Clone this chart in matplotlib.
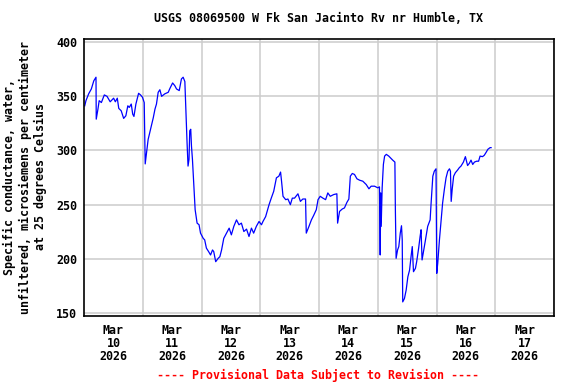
import numpy as np
import pandas as pd
import matplotlib
matplotlib.use('Agg')
import matplotlib.pyplot as plt
import matplotlib.dates as mdates

# Hours after Mar 10 2026 00:00, and specific conductance (uS/cm at 25 C)
hours = [0.3, 0.8, 1.9, 3.0, 4.0, 4.9, 5.0, 5.7, 6.2, 7.1, 8.3, 9.4, 10.7, 12.1, 12.8,
         13.6, 14.2, 15.2, 16.2, 17.1, 17.9, 18.5, 19.3, 19.9, 20.4, 21.2, 22.3, 23.1,
         23.9, 24.6, 25.0, 25.7, 26.2, 27.2, 28.3, 29.0, 29.6, 30.3, 31.0, 31.7, 33.0,
         34.4, 35.1, 36.2, 37.1, 37.8, 38.9, 39.8, 40.5, 41.2, 41.6, 42.1, 42.5, 42.9,
         43.2, 43.6, 43.9, 44.3, 44.9, 45.4, 46.2, 47.0, 47.6, 48.7, 49.3, 50.0, 50.9,
         51.7, 52.5, 53.0, 53.8, 54.8, 55.5, 56.2, 57.1, 58.2, 59.3, 60.2, 61.2, 62.3,
         63.3, 64.3, 65.3, 66.4, 67.4, 68.4, 69.3, 70.4, 71.5, 72.5, 73.1, 74.2, 75.6,
         76.5, 77.5, 78.6, 79.6, 80.3, 80.7, 81.3, 82.4, 83.3, 84.3, 85.1, 86.0, 87.4,
         88.4, 89.4, 90.5, 90.8, 91.9, 92.9, 93.8, 94.9, 95.6, 96.5, 97.6, 98.7, 99.6,
         100.6, 102.0, 103.3, 103.6, 104.4, 105.5, 106.4, 107.4, 108.2, 108.8, 109.6,
         110.5, 111.5, 112.6, 113.9, 115.3, 116.4, 117.3, 118.7, 120.0, 120.7, 121.0,
         121.2, 121.4, 121.8, 122.3, 122.8, 123.5, 124.5, 125.5, 126.1, 127.0, 127.2,
         127.5, 128.1, 128.6, 129.2, 129.7, 130.0, 130.2, 130.9, 131.6, 132.3, 133.0,
         133.6, 134.1, 134.6, 135.4, 135.9, 136.7, 137.3, 137.7, 138.1, 138.7, 139.5,
         140.4, 141.4, 141.8, 142.5, 143.1, 143.8, 144.1, 144.5, 145.2, 145.9, 146.5,
         147.2, 147.9, 148.6, 149.3, 149.7, 150.0, 150.4, 151.0, 151.7, 152.6, 153.3,
         154.0, 155.0, 155.8, 156.7, 157.4, 158.1, 158.8, 159.5, 160.4, 161.2, 161.8,
         162.8, 163.5, 164.2, 165.0, 165.9, 166.3]
values = [341, 345.7, 352, 356.5, 364, 367.3, 328.7, 338, 345.7, 344, 351, 349.7, 344.7,
          348, 344.7, 348, 338.6, 336.4, 329.4, 331.8, 341, 339.5, 342.6, 333.3, 331.2,
          342.6, 352.5, 351, 348.8, 344, 287.5, 301, 310, 319.4, 330, 338, 342.6, 353.4,
          355.8, 349.7, 352, 353.4, 357, 362, 359.5, 356.5, 355, 365.7, 367.3, 363.3, 338,
          307, 285.5, 291.7, 318, 319.4, 304, 291.7, 267, 245.4, 233, 231.5, 223.8, 219,
          217.6, 210, 206.8, 203.7, 208.3, 206.8, 197.5, 200.6, 202.1, 208.3, 219, 223.8,
          228.4, 222.2, 230, 236, 231.5, 233, 225.3, 227.5, 220.7, 228.4, 223.8, 230,
          234.5, 231.5, 234.5, 239, 250, 256, 262.3, 274.7, 276.2, 280, 271.6, 257.7,
          254.6, 255.2, 250, 256, 256, 260, 253, 255.2, 255.2, 223.8, 230, 236, 240,
          245.4, 254.6, 257.7, 256, 254.6, 260.8, 257.7, 259.3, 260, 233, 243.8, 246,
          247, 252.1, 255.2, 276.2, 278.7, 277.8, 273.8, 272.5, 271.6, 268.5, 264.6, 267,
          267, 265.5, 266.4, 203.7, 260.8, 230, 265.5, 287, 294.7, 296.3, 294.7, 292.3,
          291, 289.2, 245.4, 200.6, 208.3, 211.4, 223.8, 230.6, 217.6, 160.5, 163.6,
          171.3, 183.6, 189.8, 202.1, 211.4, 188.3, 191.4, 197.5, 209.9, 220.7, 226.9,
          199.1, 206.8, 217.6, 230, 236, 251.6, 276.2, 280.8, 283, 186.8, 196, 217.6, 236,
          251.6, 263.9, 274.7, 280.8, 283, 280.8, 253, 263.9, 276.2, 279.4, 281.8, 284,
          285.5, 289.2, 294.2, 286, 288, 291, 287, 289.2, 290, 290, 294.7, 294.2, 295.4,
          297.9, 301, 302.5, 302.5]

start = pd.Timestamp('2026-03-10')
days = pd.date_range('2026-03-10', '2026-03-17', freq='D')
y_ticks = [150, 200, 250, 300, 350, 400]

title = 'USGS 08069500 W Fk San Jacinto Rv nr Humble, TX'
ylabel = ('Specific conductance, water,\n'
          'unfiltered, microsiemens per centimeter\n'
          'at 25 degrees Celsius')
footer = '---- Provisional Data Subject to Revision ----'

font = {'family': 'DejaVu Sans Mono', 'weight': 'bold', 'size': 8.4}

times = start + pd.to_timedelta(hours, unit='h')

fig = plt.figure(figsize=(5.76, 3.84), dpi=100)
ax = fig.add_axes([84 / 576, 68.3 / 384, 470 / 576, 276.4 / 384])

ax.plot(times, values, color='#0000ff', lw=0.9)

ax.set_xlim(start, start + pd.Timedelta(days=8))
ax.set_ylim(147.8, 402.2)

# gridlines at midnight, labels centred on each day
ax.set_xticks(days[1:].tolist() + [start + pd.Timedelta(days=8)])
ax.set_xticklabels([])
ax.set_xticks([d + pd.Timedelta(hours=12) for d in days], minor=True)
ax.set_xticklabels([f'{d:%b}\n{d.day}\n{d.year}' for d in days], minor=True,
                   fontdict=font, linespacing=1.02)
ax.tick_params(axis='x', which='both', length=0, pad=6)

ax.set_yticks(y_ticks)
ax.set_yticklabels([str(v) for v in y_ticks], fontdict=font)
ax.tick_params(axis='y', length=0, pad=5)

ax.grid(True, which='major', color='#cccccc', lw=1.1)
ax.set_axisbelow(True)
for s in ax.spines.values():
    s.set_linewidth(1.2)
    s.set_color('black')

fig.text(319 / 576, 1 - 19 / 384, title, ha='center', va='center', **font)
fig.text(25 / 576, 1 - 177 / 384, ylabel, ha='center', va='center', rotation=90,
         multialignment='center', linespacing=1.2, **font)
fig.text(318 / 576, 1 - 375 / 384, footer, ha='center', va='center', color='red', **font)

fig.savefig('out.png', dpi=100)
